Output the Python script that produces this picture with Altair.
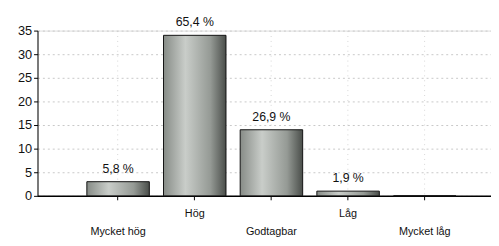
import altair as alt
import pandas as pd

categories = ["Mycket hög", "Hög", "Godtagbar", "Låg", "Mycket låg"]
counts = [3, 34, 14, 1, 0]
pct_labels = ["5,8 %", "65,4 %", "26,9 %", "1,9 %", ""]
y_ticks = [0, 5, 10, 15, 20, 25, 30, 35]

df = pd.DataFrame({"cat": categories, "n": counts, "lab": pct_labels})

FONT = "Liberation Sans"

xscale = alt.Scale(domain=categories, paddingInner=0.185, paddingOuter=0.55, align=0.585)
yscale = alt.Scale(domain=[0, 35], nice=False)

base = alt.Chart(df)

gradient = alt.Gradient(
    gradient="linear", x1=0, x2=1, y1=0, y2=0,
    stops=[
        alt.GradientStop(offset=0, color="#878c87"),
        alt.GradientStop(offset=0.35, color="#c9cdc9"),
        alt.GradientStop(offset=0.75, color="#959a95"),
        alt.GradientStop(offset=1, color="#4a4e4a"),
    ],
)

bars = base.mark_bar(color=gradient, stroke="#111", strokeWidth=1).encode(
    x=alt.X("cat:N", sort=categories, scale=xscale,
            axis=alt.Axis(title=None, labels=False, domainColor="#000", domainWidth=1.5,
                          tickColor="#000", tickSize=4, grid=True, gridColor="#d6d6d6",
                          gridDash=[1, 4], gridWidth=1)),
    y=alt.Y("n:Q", scale=yscale,
            axis=alt.Axis(title=None, values=y_ticks, tickCount=8, labelOverlap=False,
                          domainColor="#000", tickColor="#000",
                          tickSize=4, labelFont=FONT, labelFontSize=13, labelColor="#111",
                          labelPadding=2, grid=True, gridColor="#c8c8c8", gridDash=[2, 3],
                          gridWidth=1)),
)

values = base.transform_filter("datum.lab != ''").mark_text(
    font=FONT, fontSize=12.5, color="#111", baseline="bottom", dy=-6
).encode(
    x=alt.X("cat:N", sort=categories, scale=xscale),
    y=alt.Y("n:Q", scale=yscale),
    text="lab:N",
)

idx_expr = "indexof(['Mycket hög','Hög','Godtagbar','Låg','Mycket låg'], datum.cat)"

labels_low = base.transform_calculate(i=idx_expr).transform_filter("datum.i % 2 == 0").mark_text(
    font=FONT, fontSize=11, color="#111", baseline="middle", dy=37
).encode(
    x=alt.X("cat:N", sort=categories, scale=xscale),
    y=alt.datum(0, scale=yscale),
    text="cat:N",
)

labels_high = base.transform_calculate(i=idx_expr).transform_filter("datum.i % 2 == 1").mark_text(
    font=FONT, fontSize=11, color="#111", baseline="middle", dy=18
).encode(
    x=alt.X("cat:N", sort=categories, scale=xscale),
    y=alt.datum(0, scale=yscale),
    text="cat:N",
)

chart = alt.layer(bars, values, labels_low, labels_high).properties(
    width=461, height=168,
    padding={"left": 30, "top": 21, "right": 0, "bottom": 49},
    autosize="none",
).configure_view(stroke=None).configure(background="white")

chart.save("out.html", embed_options={"renderer": "svg", "actions": False})
